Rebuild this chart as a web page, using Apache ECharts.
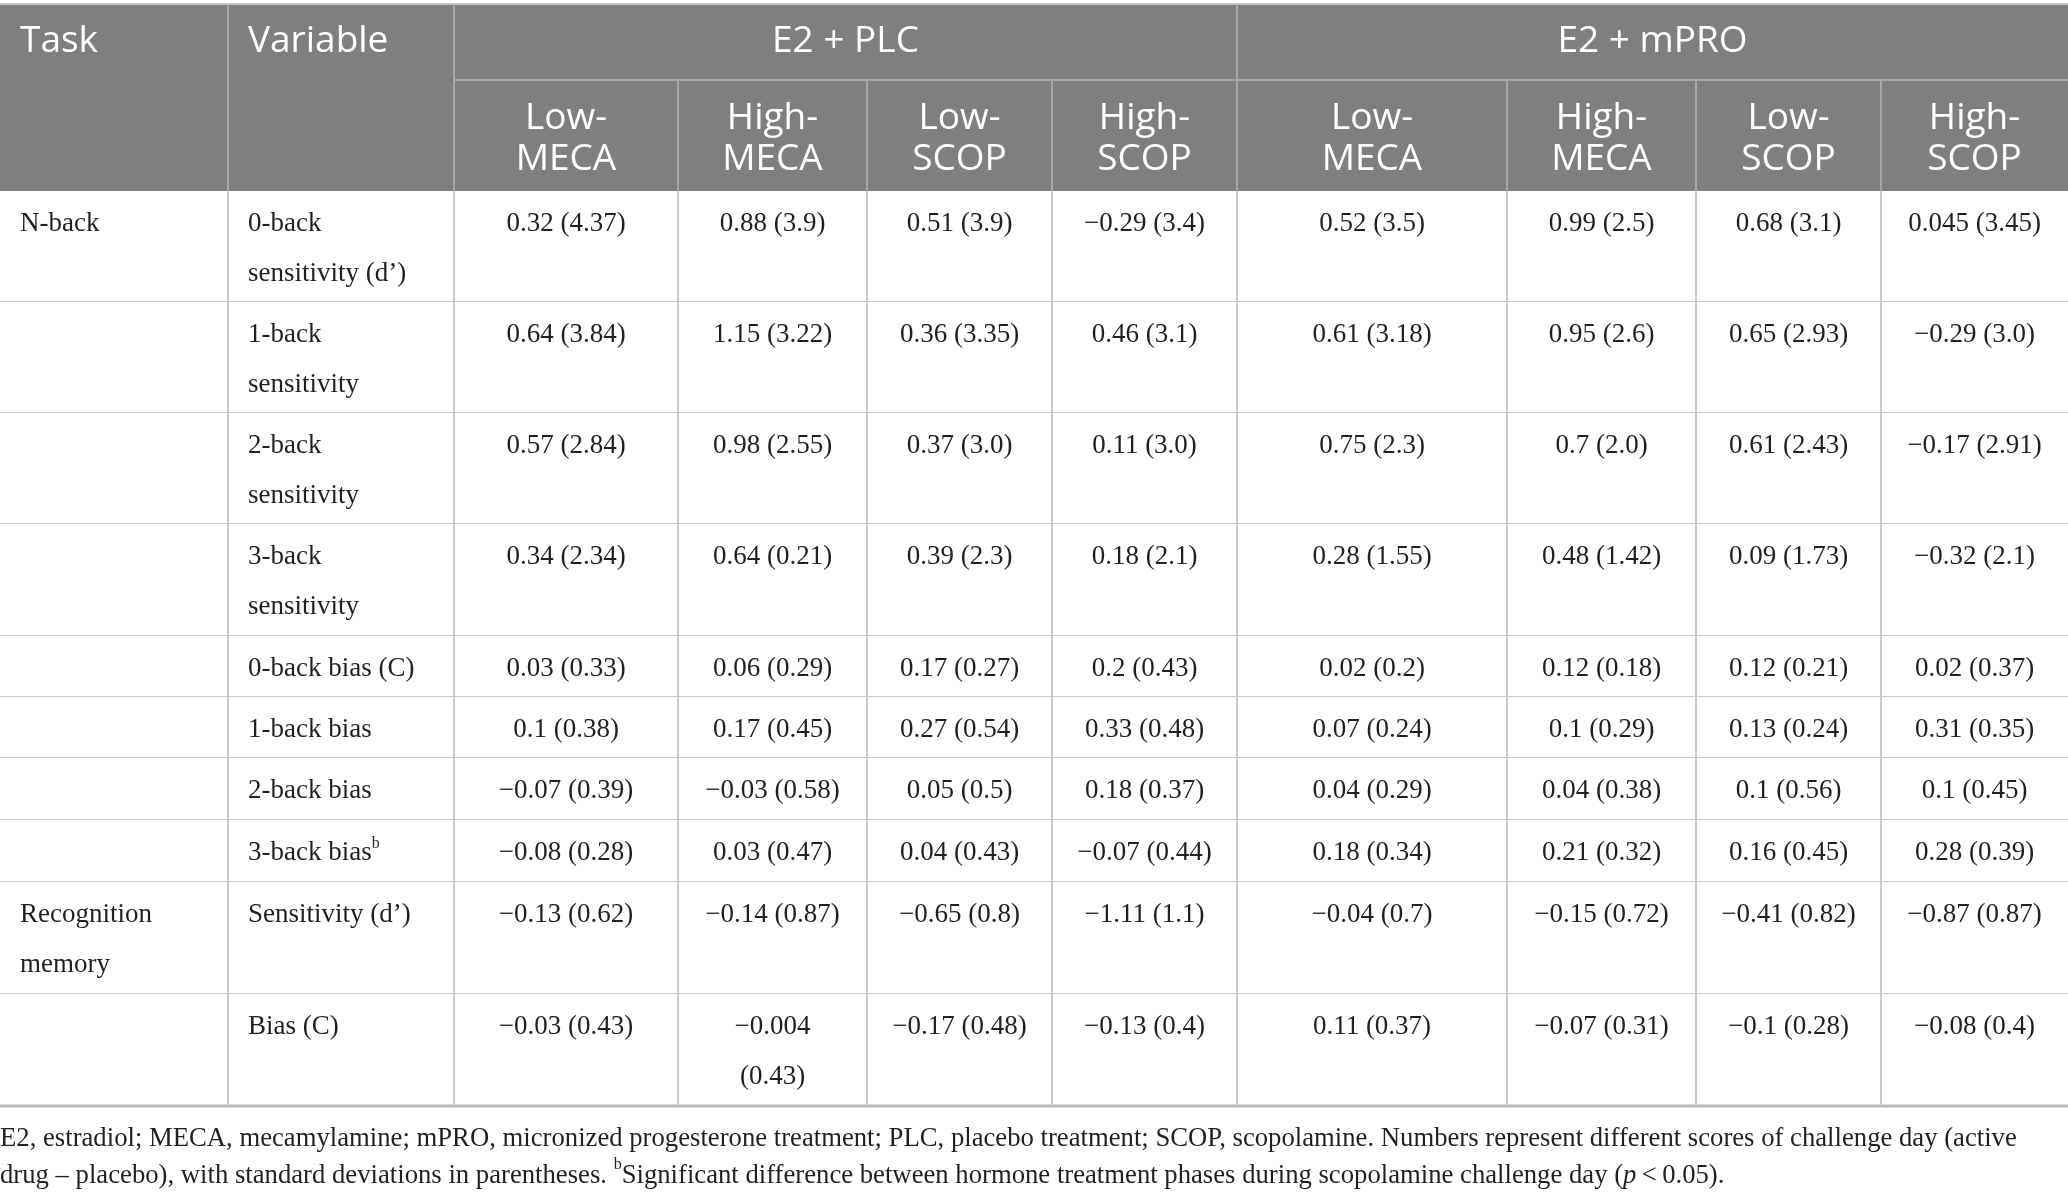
<!DOCTYPE html>
<html>
<head>
<meta charset="utf-8">
<script src="https://cdn.jsdelivr.net/npm/echarts@6/dist/echarts.min.js"></script>
<style>
  html, body { margin: 0; padding: 0; background: #fff; }
  #chart { width: 2068px; height: 1196px; }
</style>
</head>
<body>
<div id="chart"></div>
<script>
// table content
const tasks = ['N-back', '', '', '', '', '', '', '', 'Recognition\nmemory', ''];
const variables = [
  '0-back\nsensitivity (d’)',
  '1-back\nsensitivity',
  '2-back\nsensitivity',
  '3-back\nsensitivity',
  '0-back bias (C)',
  '1-back bias',
  '2-back bias',
  '3-back bias{sup|b}',
  'Sensitivity (d’)',
  'Bias (C)'
];
const treatments = ['E2 + PLC', 'E2 + mPRO'];
const challenges = ['Low-\nMECA', 'High-\nMECA', 'Low-\nSCOP', 'High-\nSCOP'];

// mean (SD) per row, columns Low-MECA, High-MECA, Low-SCOP, High-SCOP
const plcScores = [
  ['0.32 (4.37)', '0.88 (3.9)', '0.51 (3.9)', '−0.29 (3.4)'],
  ['0.64 (3.84)', '1.15 (3.22)', '0.36 (3.35)', '0.46 (3.1)'],
  ['0.57 (2.84)', '0.98 (2.55)', '0.37 (3.0)', '0.11 (3.0)'],
  ['0.34 (2.34)', '0.64 (0.21)', '0.39 (2.3)', '0.18 (2.1)'],
  ['0.03 (0.33)', '0.06 (0.29)', '0.17 (0.27)', '0.2 (0.43)'],
  ['0.1 (0.38)', '0.17 (0.45)', '0.27 (0.54)', '0.33 (0.48)'],
  ['−0.07 (0.39)', '−0.03 (0.58)', '0.05 (0.5)', '0.18 (0.37)'],
  ['−0.08 (0.28)', '0.03 (0.47)', '0.04 (0.43)', '−0.07 (0.44)'],
  ['−0.13 (0.62)', '−0.14 (0.87)', '−0.65 (0.8)', '−1.11 (1.1)'],
  ['−0.03 (0.43)', '−0.004\n(0.43)', '−0.17 (0.48)', '−0.13 (0.4)']
];
const mproScores = [
  ['0.52 (3.5)', '0.99 (2.5)', '0.68 (3.1)', '0.045 (3.45)'],
  ['0.61 (3.18)', '0.95 (2.6)', '0.65 (2.93)', '−0.29 (3.0)'],
  ['0.75 (2.3)', '0.7 (2.0)', '0.61 (2.43)', '−0.17 (2.91)'],
  ['0.28 (1.55)', '0.48 (1.42)', '0.09 (1.73)', '−0.32 (2.1)'],
  ['0.02 (0.2)', '0.12 (0.18)', '0.12 (0.21)', '0.02 (0.37)'],
  ['0.07 (0.24)', '0.1 (0.29)', '0.13 (0.24)', '0.31 (0.35)'],
  ['0.04 (0.29)', '0.04 (0.38)', '0.1 (0.56)', '0.1 (0.45)'],
  ['0.18 (0.34)', '0.21 (0.32)', '0.16 (0.45)', '0.28 (0.39)'],
  ['−0.04 (0.7)', '−0.15 (0.72)', '−0.41 (0.82)', '−0.87 (0.87)'],
  ['0.11 (0.37)', '−0.07 (0.31)', '−0.1 (0.28)', '−0.08 (0.4)']
];

const footnoteLines = [
  'E2, estradiol; MECA, mecamylamine; mPRO, micronized progesterone treatment; PLC, placebo treatment; SCOP, scopolamine. Numbers represent different scores of challenge day (active',
  'drug – placebo), with standard deviations in parentheses. {sup|b}Significant difference between hormone treatment phases during scopolamine challenge day ({i|p}\u2009<\u20090.05).'
];

// layout (pixel units on the hidden axes)
const colEdges = [0, 228, 454, 678, 867, 1052, 1237, 1507, 1696, 1881, 2068];
const headTop = 4, headMid = 80, headBottom = 191;
const rowEdges = [191, 302, 413, 524, 636, 697, 758, 820, 882, 994, 1106];

const HEAD_BG = '#7f807e';
const HEAD_LINE = '#a6a7a5';
const BODY_LINE = '#c9c9c9';
const SERIF = '"Liberation Serif", "DejaVu Serif", serif';
const SANS = '"Open Sans", "Noto Sans", sans-serif';

// build cell list
const cells = [];
cells.push({ c0: 0, c1: 1, y0: headTop, y1: headBottom, text: 'Task', head: true, align: 'left', first: 37, lh: 41 });
cells.push({ c0: 1, c1: 2, y0: headTop, y1: headBottom, text: 'Variable', head: true, align: 'left', first: 37, lh: 41 });
treatments.forEach((t, g) => {
  cells.push({ c0: 2 + g * 4, c1: 6 + g * 4, y0: headTop, y1: headMid, text: t, head: true, align: 'center', first: 37, lh: 41 });
  challenges.forEach((ch, k) => {
    cells.push({ c0: 2 + g * 4 + k, c1: 3 + g * 4 + k, y0: headMid, y1: headBottom, text: ch, head: true, align: 'center', first: 38, lh: 41, sub: true });
  });
});
variables.forEach((v, r) => {
  const y0 = rowEdges[r], y1 = rowEdges[r + 1];
  cells.push({ c0: 0, c1: 1, y0, y1, text: tasks[r], align: 'left', first: 33, lh: 50 });
  cells.push({ c0: 1, c1: 2, y0, y1, text: v, align: 'left', first: 33, lh: 50 });
  plcScores[r].forEach((s, k) => cells.push({ c0: 2 + k, c1: 3 + k, y0, y1, text: s, align: 'center', first: 33, lh: 50 }));
  mproScores[r].forEach((s, k) => cells.push({ c0: 6 + k, c1: 7 + k, y0, y1, text: s, align: 'center', first: 33, lh: 50 }));
});

function renderCell(params, api) {
  const c = cells[params.dataIndex];
  const p0 = api.coord([colEdges[c.c0], c.y0]);
  const p1 = api.coord([colEdges[c.c1], c.y1]);
  const lineColor = c.head ? HEAD_LINE : BODY_LINE;
  const children = [{
    type: 'rect',
    shape: { x: p0[0], y: p0[1], width: p1[0] - p0[0], height: p1[1] - p0[1] },
    style: { fill: c.head ? HEAD_BG : '#ffffff' }
  }];
  if (c.c0 > 0) {
    children.push({ type: 'line', shape: { x1: p0[0], y1: p0[1], x2: p0[0], y2: p1[1] }, style: { stroke: lineColor, lineWidth: 2 } });
  }
  if (c.head && c.y0 === headTop) {
    children.push({ type: 'line', shape: { x1: p0[0], y1: p0[1], x2: p1[0], y2: p0[1] }, style: { stroke: '#c4c4c4', lineWidth: 2 } });
  }
  if (c.sub) {
    children.push({ type: 'line', shape: { x1: p0[0], y1: p0[1], x2: p1[0], y2: p0[1] }, style: { stroke: HEAD_LINE, lineWidth: 2 } });
  }
  if (!c.head) {
    const last = c.y1 === rowEdges[rowEdges.length - 1];
    children.push({ type: 'line', shape: { x1: p0[0], y1: p1[1], x2: p1[0], y2: p1[1] }, style: { stroke: last ? '#b9b9b9' : BODY_LINE, lineWidth: last ? 3 : 2 } });
  }
  const tx = c.align === 'left' ? p0[0] + 20 : (p0[0] + p1[0]) / 2;
  children.push({
    type: 'text',
    style: {
      text: c.text,
      x: tx,
      y: p0[1] + c.first - c.lh / 2,
      align: c.align,
      verticalAlign: 'top',
      lineHeight: c.lh,
      fontSize: c.head ? 37 : 27,
      fontFamily: c.head ? SANS : SERIF,
      fill: c.head ? '#ffffff' : '#231f20',
      rich: {
        sup: { fontSize: 16, fontFamily: SERIF, fill: '#231f20', lineHeight: 30, padding: [8, 0, 0, 0], verticalAlign: 'top' }
      }
    }
  });
  return { type: 'group', children };
}

const chart = echarts.init(document.getElementById('chart'), null, { renderer: 'canvas' });
chart.setOption({
  animation: false,
  backgroundColor: '#ffffff',
  grid: { left: 0, right: 0, top: 0, bottom: 0 },
  xAxis: { type: 'value', min: 0, max: 2068, show: false },
  yAxis: { type: 'value', min: 0, max: 1196, inverse: true, show: false },
  series: [{
    type: 'custom',
    coordinateSystem: 'cartesian2d',
    clip: false,
    renderItem: renderCell,
    data: cells.map(c => [colEdges[c.c0], c.y0])
  }],
  graphic: [{
    type: 'text',
    left: 0,
    top: 1120,
    style: {
      text: footnoteLines.join('\n'),
      fontSize: 26.7,
      fontFamily: SERIF,
      fill: '#231f20',
      lineHeight: 37,
      rich: {
        sup: { fontSize: 16, fontFamily: SERIF, fill: '#231f20', lineHeight: 26, verticalAlign: 'top' },
        i: { fontSize: 26.7, fontFamily: SERIF, fontStyle: 'italic', fill: '#231f20', lineHeight: 37 }
      }
    }
  }]
});
</script>
</body>
</html>
